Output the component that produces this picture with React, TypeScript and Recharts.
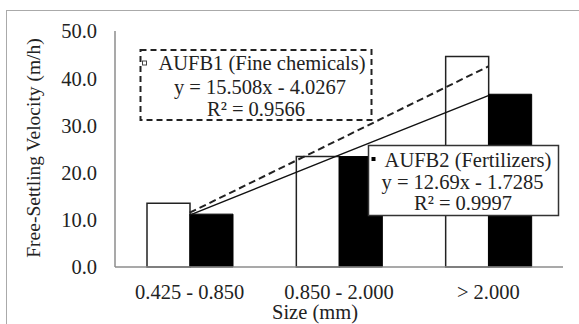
import React from "react";
import { ComposedChart, Bar, Line, XAxis, YAxis } from "recharts";

const categories = ["0.425 - 0.850", "0.850 - 2.000", "> 2.000"];
const aufb1 = [13.5, 23.4, 44.6];
const aufb2 = [11.2, 23.4, 36.6];
const trend1 = [11.5, 27.0, 42.5];
const trend2 = [11.0, 23.7, 36.3];
const yTicks = [0, 10, 20, 30, 40, 50];

const data = categories.map((c, i) => ({
  cat: c,
  aufb1: aufb1[i],
  aufb2: aufb2[i],
  trend1: trend1[i],
  trend2: trend2[i],
}));

const FONT = "Liberation Serif";
const TXT = "#222";
const AXIS = "#8c8c8c";
const FS = 20.5;
const ts = { fontFamily: FONT, fontSize: FS, fill: TXT };

const XTick = (props: any) => (
  <text x={props.x} y={props.y} dy="0.71em" textAnchor="middle" style={ts}>
    {props.payload.value}
  </text>
);

const YTick = (props: any) => (
  <text x={props.x} y={props.y} dy="0.36em" textAnchor="end" style={ts}>
    {Number(props.payload.value).toFixed(1)}
  </text>
);

export default function App() {
  return (
    <div style={{ position: "absolute", left: 0, top: 0, width: 579, height: 324, background: "#fff" }}>
      <ComposedChart
        width={579}
        height={324}
        data={data}
        margin={{ top: 31, right: 16, bottom: 0, left: 0 }}
        barGap={0}
        barSize={43}
      >
        <XAxis
          dataKey="cat"
          height={57}
          tickLine={false}
          tickSize={0}
          tickMargin={17}
          axisLine={{ stroke: AXIS, strokeWidth: 1.5 }}
          tick={XTick}
          interval={0}
        />
        <XAxis
          xAxisId="top"
          dataKey="cat"
          orientation="top"
          height={0}
          tick={false}
          tickLine={false}
          axisLine={{ stroke: AXIS, strokeWidth: 1.5 }}
        />
        <YAxis
          width={115}
          domain={[0, 50]}
          ticks={yTicks}
          tickLine={false}
          tickSize={0}
          tickMargin={18}
          axisLine={{ stroke: AXIS, strokeWidth: 1.5 }}
          tick={YTick}
        />
        <YAxis
          yAxisId="right"
          orientation="right"
          width={0}
          domain={[0, 50]}
          tick={false}
          tickLine={false}
          axisLine={{ stroke: AXIS, strokeWidth: 1.5 }}
        />
        <Bar dataKey="aufb1" fill="#fff" stroke="#222" strokeWidth={1.5} isAnimationActive={false} />
        <Bar dataKey="aufb2" fill="#000" stroke="#000" strokeWidth={1} isAnimationActive={false} />
        <Line
          dataKey="trend1"
          type="linear"
          stroke="#222"
          strokeWidth={2}
          strokeDasharray="7 4"
          dot={false}
          isAnimationActive={false}
        />
        <Line
          dataKey="trend2"
          type="linear"
          stroke="#111"
          strokeWidth={1.5}
          dot={false}
          isAnimationActive={false}
        />
      </ComposedChart>
      <svg
        width={579}
        height={324}
        style={{ position: "absolute", left: 0, top: 0, pointerEvents: "none" }}
      >
        <rect x={6.5} y={10.5} width={700} height={400} fill="none" stroke="#aaa" strokeWidth={1} />
        <text
          x={33}
          y={148}
          transform="rotate(-90 33 148)"
          textAnchor="middle"
          dominantBaseline="central"
          style={{ ...ts, fontSize: 19.5 }}
        >
          Free-Settling Velocity (m/h)
        </text>
        <text x={315} y={319} textAnchor="middle" style={ts}>
          Size (mm)
        </text>

        <rect x={140.5} y={50} width={231} height={70} fill="#fff" stroke="#222" strokeWidth={2} strokeDasharray="6 4" />
        <rect x={142.5} y={61} width={4} height={4} fill="#fff" stroke="#444" strokeWidth={1} />
        <text x={262} y={70} textAnchor="middle" style={ts}>AUFB1 (Fine chemicals)</text>
        <text x={260} y={94} textAnchor="middle" style={ts}>y = 15.508x - 4.0267</text>
        <text x={256} y={116} textAnchor="middle" style={ts}>R² = 0.9566</text>

        <rect x={368.5} y={145.5} width={190} height={70} fill="#fff" stroke="#333" strokeWidth={1.5} />
        <rect x={371.5} y={157} width={4} height={4} fill="#000" />
        <text x={468} y={167} textAnchor="middle" style={ts}>AUFB2 (Fertilizers)</text>
        <text x={462.5} y={189} textAnchor="middle" style={ts}>y = 12.69x - 1.7285</text>
        <text x={463} y={210} textAnchor="middle" style={ts}>R² = 0.9997</text>
      </svg>
    </div>
  );
}
